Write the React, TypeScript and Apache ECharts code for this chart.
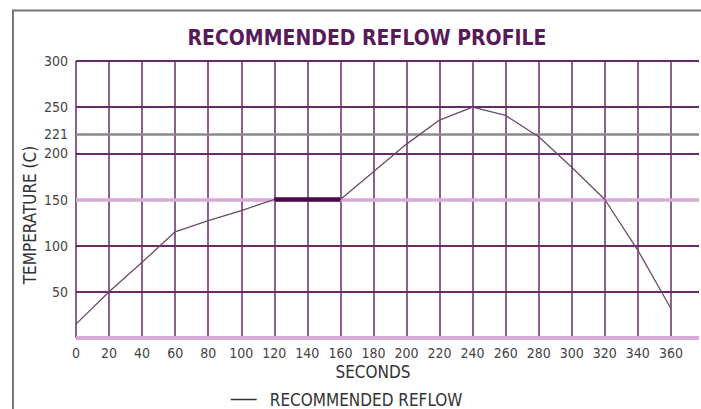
import React, { useEffect, useRef } from "react";
import * as echarts from "echarts";

const seconds = [0, 20, 40, 60, 80, 100, 120, 140, 160, 180, 200, 220, 240, 260, 280, 300, 320, 340, 360];
const temps = [15, 50, 82, 115, 127, 138, 150, 150, 150, 180, 210, 236, 250, 241, 218, 185, 150, 95, 32];
const soakSeconds = [120, 140, 160];
const soakTemps = [150, 150, 150];
const liquidus = 221;
const titleText = "RECOMMENDED REFLOW PROFILE";
const seriesName = "RECOMMENDED REFLOW";
const xName = "SECONDS";
const yName = "TEMPERATURE (C)";

const NARROW = "'DejaVu Sans Condensed', 'Liberation Sans Narrow', sans-serif";

export default function App() {
  const ref = useRef<HTMLDivElement>(null);
  useEffect(() => {
    if (!ref.current) return;
    const chart = echarts.init(ref.current, undefined, { renderer: "svg" });
    const purple = "#6a2a6a";
    const pink = "#d8aad8";
    chart.setOption({
      animation: false,
      backgroundColor: "#ffffff",
      title: {
        text: titleText,
        left: 362,
        top: 22,
        textAlign: "center",
        textStyle: { fontFamily: NARROW, fontWeight: "bold", fontSize: 21, color: "#5a1a5a" },
      },
      legend: {
        left: 225,
        top: 386,
        itemWidth: 26,
        itemHeight: 14,
        data: [{ name: seriesName, lineStyle: { color: "#333", width: 1.5 }, itemStyle: { opacity: 0 } }],
        textStyle: { fontFamily: NARROW, fontSize: 17, color: "#333", padding: [0, 0, 0, 8] },
      },
      grid: { left: 76, top: 61, right: 2, bottom: 71 },
      xAxis: {
        type: "value",
        min: 0,
        max: 377,
        interval: 20,
        axisLine: { show: false },
        axisTick: { show: false },
        axisLabel: { margin: 8, fontFamily: NARROW, fontSize: 14, color: "#444", showMaxLabel: false },
        splitLine: { show: true, showMinLine: true, showMaxLine: false, lineStyle: { color: purple, width: 1.5 } },
      },
      yAxis: {
        type: "value",
        min: 0,
        max: 300,
        interval: 50,
        axisLine: { show: false },
        axisTick: { show: false },
        axisLabel: {
          margin: 8,
          fontFamily: NARROW,
          fontSize: 14,
          color: "#444",
          formatter: (v: number) => (v === 0 ? "" : String(v)),
        },
        splitLine: { show: true, showMinLine: false, showMaxLine: true, lineStyle: { color: purple, width: 1.8 } },
      },
      graphic: [
        { type: "line", shape: { x1: 13, y1: 10, x2: 13, y2: 409 }, style: { stroke: "#777", lineWidth: 2 } },
        { type: "line", shape: { x1: 12, y1: 10.5, x2: 701, y2: 10.5 }, style: { stroke: "#777", lineWidth: 2 } },
        {
          type: "text",
          x: 30,
          y: 215,
          rotation: Math.PI / 2,
          style: { text: yName, fontFamily: NARROW, fontSize: 17, fill: "#333", textAlign: "center", textVerticalAlign: "middle" },
        },
        {
          type: "text",
          x: 373,
          y: 372,
          style: { text: xName, fontFamily: NARROW, fontSize: 17, fill: "#333", textAlign: "center", textVerticalAlign: "middle" },
        },
      ],
      series: [
        {
          name: seriesName,
          type: "line",
          symbol: "none",
          data: seconds.map((s, i) => [s, temps[i]]),
          lineStyle: { color: "#6a4a6a", width: 1.3 },
          z: 5,
          markLine: {
            silent: true,
            symbol: "none",
            data: [
              { yAxis: 0, lineStyle: { color: pink, width: 4, type: "solid" }, label: { show: false } },
              { yAxis: 150, lineStyle: { color: pink, width: 3.5, type: "solid" }, label: { show: false } },
              {
                yAxis: liquidus,
                lineStyle: { color: "#8a8a8a", width: 2.5, type: "solid" },
                label: {
                  show: true,
                  position: "start",
                  formatter: String(liquidus),
                  distance: 8,
                  fontFamily: NARROW,
                  fontSize: 14,
                  color: "#444",
                },
              },
            ],
          },
        },
        {
          name: "soak",
          type: "line",
          symbol: "none",
          data: soakSeconds.map((s, i) => [s, soakTemps[i]]),
          lineStyle: { color: "#4a0a4a", width: 4.5 },
          z: 6,
        },
      ],
    });
    return () => chart.dispose();
  }, []);
  return <div ref={ref} style={{ position: "absolute", left: 0, top: 0, width: 701, height: 409 }} />;
}
